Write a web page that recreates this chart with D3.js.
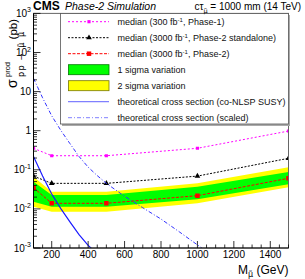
<!DOCTYPE html>
<html>
<head>
<meta charset="utf-8">
<script src="https://cdn.jsdelivr.net/npm/d3@7"></script>
<style>
  body { margin: 0; background: #fff; }
  svg { font-family: "Liberation Sans", Arial, sans-serif; }
  .dv { font-family: "DejaVu Sans", sans-serif; }
</style>
</head>
<body>
<div id="chart"></div>
<script>
// masses where the limits were computed (GeV)
const massPoints = [100, 200, 500, 1000, 1500];
const medianPhase1 = [0.355, 0.229, 0.229, 0.355, 0.98];
const medianStandalone = [0.069, 0.045, 0.045, 0.069, 0.197];
const medianPhase2 = [0.0348, 0.0139, 0.0139, 0.0218, 0.0607];
const sigma1Low = [0.0153, 0.0114, 0.0114, 0.0176, 0.0426];
const sigma1High = [0.0497, 0.0226, 0.0226, 0.037, 0.0879];
const sigma2Low = [0.0114, 0.0085, 0.0085, 0.0139, 0.0356];
const sigma2High = [0.0667, 0.0275, 0.0275, 0.0452, 0.116];

// theory curves
const theoryMass = [100, 150, 200, 250, 300, 350, 400, 450, 500, 600, 700, 800, 900, 1000, 1100];
const theoryXsec = [0.219, 0.0692, 0.024, 0.0102, 0.00468, 0.00219, 0.00117, 0.00071, 0.00045, 0.00021, 0.000107, 0.000055, 0.000026, 0.000012, 0.0000055];
const theoryScaled = [21.9, 6.92, 2.4, 1.02, 0.468, 0.219, 0.117, 0.071, 0.045, 0.021, 0.0107, 0.0055, 0.0026, 0.0012, 0.00055];

const xTicks = [200, 400, 600, 800, 1000, 1200, 1400];
const yDecades = [1e-3, 1e-2, 1e-1, 1, 10, 100, 1000];
const yTickBase = ["10", "10", "10", "1", "10", "10", "10"];
const yTickExp = ["-3", "-2", "-1", "", "", "2", "3"];

const legendLabels = [
	"median (300 fb", "median (3000 fb", "median (3000 fb",
	"1 sigma variation", "2 sigma variation",
	"theoretical cross section (co-NLSP SUSY)", "theoretical cross section (scaled)"
];
const legendTails = [", Phase-1)", ", Phase-2 standalone)", ", Phase-2)", "", "", "", ""];

const W = 305, H = 279;
const pLeft = 33.5, pRight = 288.5, pTop = 13.4, pBottom = 248;

const svg = d3.select("#chart").append("svg")
	.attr("width", W).attr("height", H);

const x = d3.scaleLinear().domain([100, 1500]).range([pLeft, pRight]);
const y = d3.scaleLog().domain([1e-3, 1e3]).range([pBottom, pTop]);

svg.append("clipPath").attr("id", "plotclip")
	.append("rect").attr("x", pLeft).attr("y", pTop).attr("width", pRight - pLeft).attr("height", pBottom - pTop);

const plot = svg.append("g").attr("clip-path", "url(#plotclip)");

// bands
function band(lo, hi) {
	return d3.area()
		.x((d, i) => x(massPoints[i]))
		.y0((d, i) => y(lo[i]))
		.y1((d, i) => y(hi[i]))(massPoints);
}
plot.append("path").attr("d", band(sigma2Low, sigma2High)).attr("fill", "#ffff00");
plot.append("path").attr("d", band(sigma1Low, sigma1High)).attr("fill", "#00ff00");

const line = d3.line().x(d => x(d[0])).y(d => y(d[1]));

function drawSeries(vals, color, dash, shape, size) {
	plot.append("path")
		.attr("d", line(massPoints.map((m, i) => [m, vals[i]])))
		.attr("fill", "none").attr("stroke", color).attr("stroke-width", 1)
		.attr("stroke-dasharray", dash);
	plot.selectAll(null).data(vals).enter().append("path")
		.attr("transform", (d, i) => "translate(" + x(massPoints[i]) + "," + y(d) + ")")
		.attr("d", d3.symbol().type(shape).size(size))
		.attr("fill", color);
}
drawSeries(medianPhase1, "#ff00ff", "2,2", d3.symbolSquare, 10);
drawSeries(medianStandalone, "#000000", "2,1.5", d3.symbolTriangle, 14);
drawSeries(medianPhase2, "#ff0000", "3,1.5", d3.symbolSquare, 20);

plot.append("path")
	.attr("d", line(theoryMass.map((m, i) => [m, theoryXsec[i]])))
	.attr("fill", "none").attr("stroke", "#1a1aff").attr("stroke-width", 1.2);
plot.append("path")
	.attr("d", line(theoryMass.map((m, i) => [m, theoryScaled[i]])))
	.attr("fill", "none").attr("stroke", "#3333ff").attr("stroke-width", 1)
	.attr("stroke-dasharray", "4,2,1,2");

// frame
svg.append("rect").attr("x", pLeft).attr("y", pTop).attr("width", pRight - pLeft).attr("height", pBottom - pTop)
	.attr("fill", "none").attr("stroke", "#666").attr("stroke-width", 1);

// x axis
const xAxis = svg.append("g");
xAxis.append("line").attr("x1", pLeft).attr("x2", pRight).attr("y1", pBottom).attr("y2", pBottom).attr("stroke", "#000");
xAxis.selectAll(".minor").data(d3.range(100, 1501, 50)).enter().append("line")
	.attr("x1", d => x(d)).attr("x2", d => x(d))
	.attr("y1", pBottom).attr("y2", d => pBottom - (d % 200 === 0 ? 7 : 3.5))
	.attr("stroke", "#000").attr("stroke-width", 0.8);
xAxis.selectAll("text").data(xTicks).enter().append("text")
	.attr("x", d => x(d)).attr("y", 257.5)
	.attr("text-anchor", "middle").attr("font-size", 10).text(d => d);

// y axis
const yAxis = svg.append("g");
yAxis.append("line").attr("x1", pLeft).attr("x2", pLeft).attr("y1", pTop).attr("y2", pBottom).attr("stroke", "#000");
const yMinor = [];
yDecades.slice(0, -1).forEach(dec => { for (let k = 2; k <= 9; k++) yMinor.push(dec * k); });
yAxis.selectAll(".minor").data(yMinor).enter().append("line")
	.attr("x1", pLeft).attr("x2", pLeft + 3.5)
	.attr("y1", d => y(d)).attr("y2", d => y(d))
	.attr("stroke", "#000").attr("stroke-width", 0.8);
yAxis.selectAll(".major").data(yDecades).enter().append("line")
	.attr("x1", pLeft).attr("x2", pLeft + 7)
	.attr("y1", d => y(d)).attr("y2", d => y(d))
	.attr("stroke", "#000").attr("stroke-width", 0.8);
const ylab = yAxis.selectAll(".lab").data(yDecades).enter().append("text")
	.attr("x", 31).attr("y", d => y(d) + 3.5)
	.attr("text-anchor", "end").attr("font-size", 10);
ylab.append("tspan").text((d, i) => yTickBase[i]);
ylab.append("tspan").attr("dy", -4.5).attr("font-size", 7).text((d, i) => yTickExp[i]);

// legend
const lg = svg.append("g");
lg.append("rect").attr("x", 62).attr("y", 15).attr("width", 228).attr("height", 111).attr("fill", "#aaa");
lg.append("rect").attr("x", 60.5).attr("y", 13.5).attr("width", 228).attr("height", 110.5)
	.attr("fill", "#fff").attr("stroke", "#555").attr("stroke-width", 0.8);
const rowY = i => 21.7 + i * 16;
const lineStyles = [
	{ color: "#ff00ff", dash: "2,2", shape: d3.symbolSquare, size: 10 },
	{ color: "#000", dash: "2,1.5", shape: d3.symbolTriangle, size: 14 },
	{ color: "#ff0000", dash: "3,1.5", shape: d3.symbolSquare, size: 20 }
];
lineStyles.forEach((s, i) => {
	lg.append("line").attr("x1", 68).attr("x2", 109).attr("y1", rowY(i)).attr("y2", rowY(i))
		.attr("stroke", s.color).attr("stroke-dasharray", s.dash);
	lg.append("path").attr("transform", "translate(89," + rowY(i) + ")")
		.attr("d", d3.symbol().type(s.shape).size(s.size)).attr("fill", s.color);
});
lg.append("rect").attr("x", 68.5).attr("y", rowY(3) - 5).attr("width", 40.5).attr("height", 10)
	.attr("fill", "#00ff00").attr("stroke", "#007700").attr("stroke-width", 0.8);
lg.append("rect").attr("x", 68.5).attr("y", rowY(4) - 5).attr("width", 40.5).attr("height", 10)
	.attr("fill", "#ffff00").attr("stroke", "#777700").attr("stroke-width", 0.8);
lg.append("line").attr("x1", 68).attr("x2", 109).attr("y1", rowY(5)).attr("y2", rowY(5))
	.attr("stroke", "#8080ff").attr("stroke-width", 1.2);
lg.append("line").attr("x1", 68).attr("x2", 109).attr("y1", rowY(6)).attr("y2", rowY(6))
	.attr("stroke", "#8080ff").attr("stroke-width", 1).attr("stroke-dasharray", "4,2,1,2");
legendLabels.forEach((t, i) => {
	const tx = lg.append("text").attr("x", 117.5).attr("y", rowY(i) + 3.3).attr("font-size", 9).attr("fill", "#111");
	tx.append("tspan").text(t);
	if (legendTails[i]) {
		tx.append("tspan").attr("dy", -3).attr("font-size", 6).text("-1");
		tx.append("tspan").attr("dy", 3).text(legendTails[i]);
	}
});

// titles
svg.append("text").attr("x", 33).attr("y", 10).attr("font-size", 12).attr("font-weight", "bold").text("CMS");
svg.append("text").attr("x", 65).attr("y", 10).attr("font-size", 10.5).attr("font-style", "italic").text("Phase-2 Simulation");
const ct = svg.append("text").attr("x", 301).attr("y", 10).attr("font-size", 10).attr("text-anchor", "end");
ct.append("tspan").text("cτ");
ct.append("tspan").attr("class", "dv").attr("dy", 3).attr("font-size", 6.5).text("μ̃");
ct.append("tspan").attr("dy", -3).text(" = 1000 mm (14 TeV)");

// x title
const xt = svg.append("text").attr("x", 288.5).attr("y", 273.5).attr("font-size", 12).attr("text-anchor", "end");
xt.append("tspan").text("M");
xt.append("tspan").attr("class", "dv").attr("dy", 3).attr("font-size", 8).text("μ̃");
xt.append("tspan").attr("dy", -3).text(" (GeV)");

// y title
const yt = svg.append("g").attr("transform", "translate(17,88) rotate(-90)");
yt.append("text").attr("x", 0).attr("y", 0).attr("font-size", 14).text("σ");
yt.append("text").attr("x", 11).attr("y", -7).attr("font-size", 7.5).text("prod");
yt.append("text").attr("class", "dv").attr("x", 11).attr("y", 7).attr("font-size", 8)
	.attr("textLength", 45).attr("lengthAdjust", "spacing").text("pp → μ̃ μ̃");
yt.append("text").attr("x", 69).attr("y", 0).attr("font-size", 11.5).attr("text-anchor", "end").text("(pb)");
</script>
</body>
</html>
